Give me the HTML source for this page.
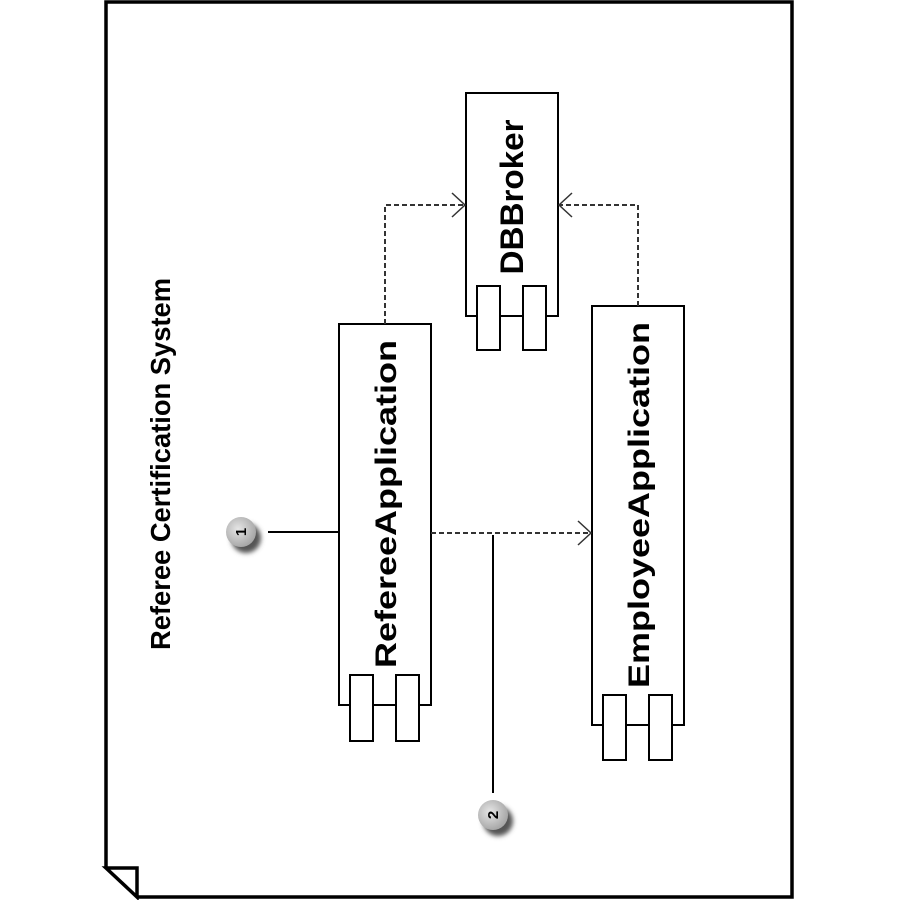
<!DOCTYPE html>
<html><head><meta charset="utf-8"><style>html,body{margin:0;padding:0;background:#fff}svg{display:block}</style></head>
<body>
<svg width="900" height="900" viewBox="0 0 900 900" xmlns="http://www.w3.org/2000/svg">
<defs>
<radialGradient id="g" cx="0.4" cy="0.4" r="0.6"><stop offset="0" stop-color="#e6e6e6"/><stop offset="1" stop-color="#a8a8a8"/></radialGradient>
<filter id="sh" x="-50%" y="-50%" width="200%" height="200%"><feGaussianBlur stdDeviation="2.5"/></filter>
</defs>
<g fill="none" stroke="#000" stroke-width="3.5">
<path d="M106,868 L106,2 L792,2 L792,897 L137,897"/>
<path d="M106,868 L137,868 L137,897 Z"/>
</g>
<text transform="translate(170,464) rotate(-90)" text-anchor="middle" font-family="Liberation Sans, sans-serif" font-weight="bold" font-size="28" textLength="372" lengthAdjust="spacingAndGlyphs" fill="#000">Referee Certification System</text>
<g fill="#fff" stroke="#000" stroke-width="2">
<rect x="466" y="93" width="92" height="223"/>
<line x1="500" y1="316" x2="523" y2="316"/>
<rect x="477" y="286" width="23" height="64"/>
<rect x="523" y="286" width="23" height="64"/>
<rect x="339" y="324" width="92" height="381"/>
<rect x="350" y="675" width="23" height="66"/>
<rect x="396" y="675" width="23" height="66"/>
<rect x="592" y="306" width="92" height="419"/>
<rect x="603" y="695" width="23" height="65"/>
<rect x="649" y="695" width="23" height="65"/>
</g>
<g font-family="Liberation Sans, sans-serif" font-weight="bold" fill="#000" text-anchor="middle">
<text transform="translate(523,197) rotate(-90)" font-size="32" textLength="155" lengthAdjust="spacingAndGlyphs">DBBroker</text>
<text transform="translate(396,504) rotate(-90)" font-size="30" textLength="328" lengthAdjust="spacingAndGlyphs">RefereeApplication</text>
<text transform="translate(649,505) rotate(-90)" font-size="30" textLength="366" lengthAdjust="spacingAndGlyphs">EmployeeApplication</text>
</g>
<g fill="none" stroke="#333" stroke-width="2" stroke-dasharray="5,3">
<path d="M385,324 L385,205 L465,205"/>
<path d="M638,306 L638,205 L559,205"/>
<path d="M431,533 L591,533"/>
</g>
<g fill="none" stroke="#333" stroke-width="1.5">
<path d="M452,193 L465,205 L452,217"/>
<path d="M572,193 L559,205 L572,217"/>
<path d="M578,521 L591,533 L578,545"/>
</g>
<g stroke="#000" stroke-width="2">
<line x1="268" y1="532" x2="339" y2="532"/>
<line x1="493" y1="535" x2="493" y2="793"/>
</g>
<circle cx="246" cy="538" r="15" fill="#555" filter="url(#sh)"/>
<circle cx="241" cy="532" r="15" fill="url(#g)"/>
<text transform="translate(246,532) rotate(-90)" text-anchor="middle" font-family="Liberation Sans, sans-serif" font-weight="bold" font-size="15">1</text>
<circle cx="498" cy="821" r="15" fill="#555" filter="url(#sh)"/>
<circle cx="493" cy="815" r="15" fill="url(#g)"/>
<text transform="translate(498,815) rotate(-90)" text-anchor="middle" font-family="Liberation Sans, sans-serif" font-weight="bold" font-size="15">2</text>
</svg>
</body></html>
